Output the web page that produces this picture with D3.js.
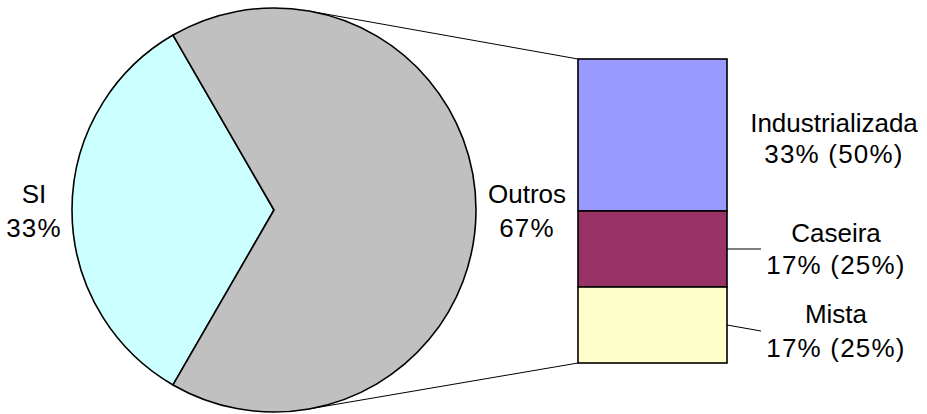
<!DOCTYPE html>
<html>
<head>
<meta charset="utf-8">
<script src="https://cdn.jsdelivr.net/npm/d3@7"></script>
<style>
  html, body { margin: 0; padding: 0; background: #fff; }
  svg { display: block; }
  text { font-family: "Liberation Sans", Arial, sans-serif; font-size: 26px; fill: #000; }
</style>
</head>
<body>
<svg id="chart" width="927" height="414"></svg>
<script>
// Main pie: counts per answer
const pieCategories = ["SI", "Outros"];
const pieValues = [2, 4];
const pieColors = ["#CCFFFF", "#C0C0C0"];

// Breakdown of "Outros" shown in the stacked bar
const barCategories = ["Industrializada", "Caseira", "Mista"];
const barValues = [2, 1, 1];
const barColors = ["#9999FF", "#993366", "#FFFFCC"];

const svg = d3.select("#chart");
const W = 927, H = 414;

const total = d3.sum(pieValues);
const outrosTotal = d3.sum(barValues);
const pct = v => Math.round(v * 100) + "%";

// Pie geometry
const cx = 274, cy = 210, R = 202;
const start = 210 * Math.PI / 180;
const pie = d3.pie().sort(null).startAngle(start).endAngle(start + 2 * Math.PI);
const arcs = pie(pieValues);
const arc = d3.arc().innerRadius(0).outerRadius(R);

// Bar geometry
const barX0 = 578, barX1 = 727;
const y = d3.scaleLinear().domain([0, outrosTotal]).range([59, 363]);
let acc = 0;
const barData = barValues.map((v, i) => {
  const d = { name: barCategories[i], value: v, y0: acc, y1: acc + v, color: barColors[i] };
  acc += v;
  return d;
});

// Connector lines tangent to the pie from the bar's left corners
function tangentPoint(px, py, side) {
  const dx = cx - px, dy = cy - py;
  const d = Math.hypot(dx, dy);
  const base = Math.atan2(dy, dx);
  const half = Math.asin(R / d);
  const ang = base + side * half;
  const len = Math.sqrt(d * d - R * R);
  return [px + Math.cos(ang) * len, py + Math.sin(ang) * len];
}
const topCorner = [barX0, y(0)];
const botCorner = [barX0, y(outrosTotal)];
const tTop = tangentPoint(topCorner[0], topCorner[1], 1);
const tBot = tangentPoint(botCorner[0], botCorner[1], -1);

svg.append("g").attr("class", "connectors")
  .selectAll("line")
  .data([[tTop, topCorner], [tBot, botCorner]])
  .join("line")
  .attr("x1", d => d[0][0]).attr("y1", d => d[0][1])
  .attr("x2", d => d[1][0]).attr("y2", d => d[1][1])
  .attr("stroke", "#000").attr("stroke-width", 1);

// Pie slices
svg.append("g").attr("transform", `translate(${cx},${cy})`)
  .selectAll("path")
  .data(arcs)
  .join("path")
  .attr("d", arc)
  .attr("fill", (d, i) => pieColors[i])
  .attr("stroke", "#000")
  .attr("stroke-width", 1.6)
  .attr("stroke-linejoin", "round");

// Stacked bar
svg.append("g").selectAll("rect")
  .data(barData)
  .join("rect")
  .attr("x", barX0)
  .attr("y", d => y(d.y0))
  .attr("width", barX1 - barX0)
  .attr("height", d => y(d.y1) - y(d.y0))
  .attr("fill", d => d.color)
  .attr("stroke", "#000")
  .attr("stroke-width", 1.6);

// Leader lines for the two smaller bar segments
const leaders = [
  { from: [barX1, 249], to: [761, 249] },
  { from: [barX1, 325], to: [761, 331] }
];
svg.append("g").selectAll("line")
  .data(leaders)
  .join("line")
  .attr("x1", d => d.from[0]).attr("y1", d => d.from[1])
  .attr("x2", d => d.to[0]).attr("y2", d => d.to[1])
  .attr("stroke", "#000").attr("stroke-width", 1);

// Labels (two lines: category, percentage)
function label(x, yBase, line1, line2, gap) {
  const t = svg.append("text").attr("text-anchor", "middle");
  t.append("tspan").attr("x", x).attr("y", yBase).text(line1);
  t.append("tspan").attr("x", x).attr("y", yBase + gap)
    .attr("letter-spacing", "1.2px").text(line2);
}

label(34, 203, pieCategories[0], pct(pieValues[0] / total), 34);
label(527, 203, pieCategories[1], pct(pieValues[1] / total), 34);

const barLabelPos = [[834, 132, 31], [836, 242, 32], [836, 323, 34]];
barData.forEach((d, i) => {
  const [x, yb, gap] = barLabelPos[i];
  label(x, yb, d.name, `${pct(d.value / total)} (${pct(d.value / outrosTotal)})`, gap);
});
</script>
</body>
</html>
